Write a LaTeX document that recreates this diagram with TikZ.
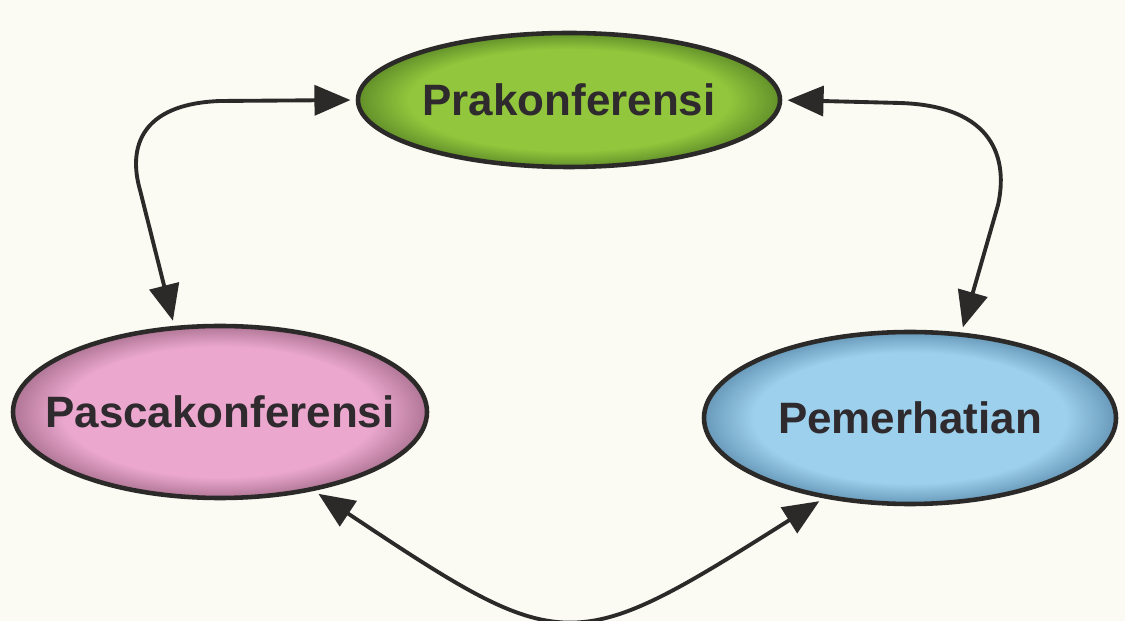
\documentclass[tikz,border=0pt]{standalone}
\usepackage{fontspec}
\setmainfont{Liberation Sans}
\usetikzlibrary{shapes.geometric,arrows.meta}

\definecolor{bgcol}{HTML}{FBFBF4}
\definecolor{edgecol}{HTML}{2B2A28}
\definecolor{txtcol}{HTML}{2E2A2E}
\definecolor{praIn}{HTML}{92C63C}
\definecolor{praOut}{HTML}{62902A}
\definecolor{pascaIn}{HTML}{EBA7CE}
\definecolor{pascaOut}{HTML}{B07696}
\definecolor{pemIn}{HTML}{9DD0EC}
\definecolor{pemOut}{HTML}{6899BA}

\pgfdeclareradialshading{praShade}{\pgfpoint{0bp}{0bp}}{color(0bp)=(praIn); color(19bp)=(praIn); color(25bp)=(praOut); color(50bp)=(praOut)}
\pgfdeclareradialshading{pascaShade}{\pgfpoint{0bp}{0bp}}{color(0bp)=(pascaIn); color(19bp)=(pascaIn); color(25bp)=(pascaOut); color(50bp)=(pascaOut)}
\pgfdeclareradialshading{pemShade}{\pgfpoint{0bp}{0bp}}{color(0bp)=(pemIn); color(19bp)=(pemIn); color(25bp)=(pemOut); color(50bp)=(pemOut)}

\begin{document}
\begin{tikzpicture}[
        oval/.style={ellipse, draw=edgecol, line width=2.6pt, inner sep=0pt, text=txtcol, font=\bfseries\fontsize{25}{30}\selectfont},
        link/.style={draw=edgecol, line width=2.2pt, {Triangle[length=0.72cm,width=0.6cm]}-{Triangle[length=0.72cm,width=0.6cm]}, shorten <=3pt, shorten >=3pt}
    ]
        \useasboundingbox (0, 0) rectangle (22.5, 12.42);
        \fill[bgcol] (0, 0) rectangle (22.5, 12.42);

        \node[oval, shading=praShade, minimum width=8.44cm, minimum height=2.68cm] (pra) at (11.38, 10.42) {\makebox[0pt]{Prakonferensi}};
        \node[oval, shading=pascaShade, minimum width=8.28cm, minimum height=3.44cm] (pasca) at (4.40, 4.18) {\makebox[0pt]{Pascakonferensi}};
        \node[oval, shading=pemShade, minimum width=8.24cm, minimum height=3.44cm] (pem) at (18.20, 4.06) {\makebox[0pt]{Pemerhatian}};

        \draw[link] (pra.west) -- (4.40, 10.40) .. controls (2.80, 10.34) and (2.56, 9.46) .. (2.80, 8.62) -- (pasca.118);
        \draw[link] (pra.east) -- (18.00, 10.36) .. controls (19.90, 10.30) and (20.16, 9.22) .. (19.96, 8.32) -- (pem.59);
        \draw[link] (pasca.-40) .. controls (11.30, -0.74) and (11.42, -0.74) .. (pem.-137);

    \end{tikzpicture}
\end{document}
